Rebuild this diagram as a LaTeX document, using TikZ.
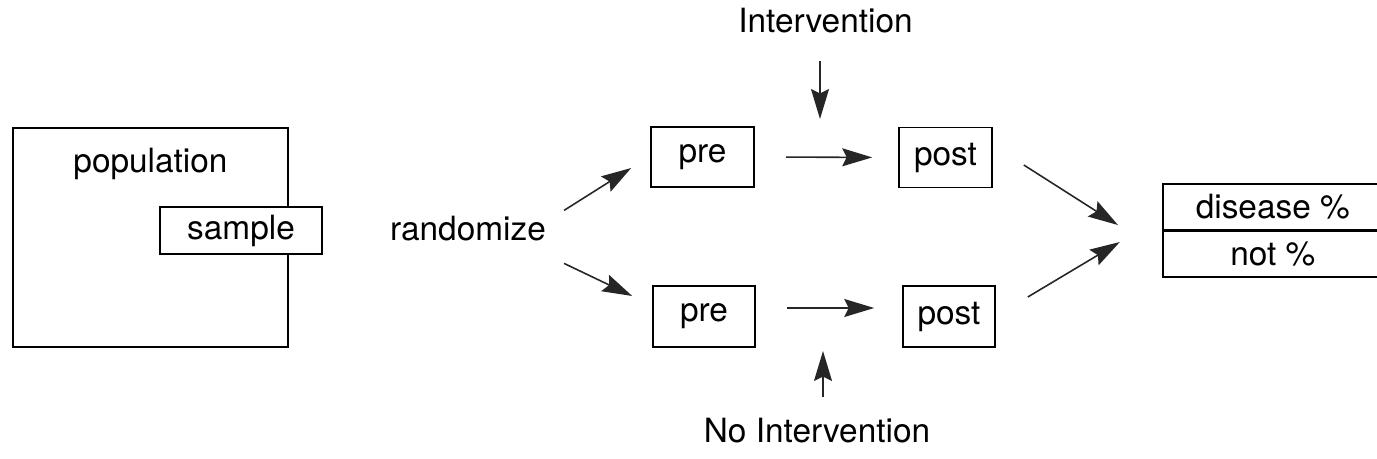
\documentclass[tikz,border=0pt]{standalone}
\usepackage{fontspec}
\setmainfont{TeX Gyre Heros}
\usepackage{tikz}
\usetikzlibrary{arrows.meta,positioning,calc}

\begin{document}
\begin{tikzpicture}[font=\fontsize{19}{22}\selectfont,
		box/.style={draw,line width=0.9pt,minimum height=1.2cm,fill=white},
		arr/.style={-{Stealth[length=6mm,width=3.6mm,inset=0.9mm]},line width=0.9pt,color=black!85}]
					\useasboundingbox (0,0) rectangle (27.54,9.18);
					%\draw[help lines] (0,0) grid (27,9);
					
					%POPULATION
					\node[draw,line width=0.9pt,minimum width=5.5cm,minimum height=4.38cm] (pop) at (3.01,4.43) {};
					\node[anchor=base] (poplab) at (3.01,5.72) {population};
					\node[box,minimum width=3.24cm,minimum height=0.94cm] (sample) at (4.82,4.57) {sample};
					%RANDOMIZE
					\node[anchor=base] (rand) at (9.36,4.36) {randomize};
					%PRE / POST
					\node[box,minimum width=2.06cm] (pre1) at (14.05,6.04) {pre};
					\node[box,minimum width=1.86cm] (post1) at (18.91,6.03) {post};
					\node[box,minimum width=2.04cm,minimum height=1.22cm] (pre2) at (14.08,2.85) {pre};
					\node[box,minimum width=1.84cm,minimum height=1.22cm] (post2) at (18.98,2.85) {post};
					%INTERVENTION
					\node[anchor=base] (int) at (16.51,8.52) {Intervention};
					\node[anchor=base] (noint) at (16.34,0.32) {No Intervention};
					\coordinate (itip) at (16.4,6.8);
					\coordinate (ntip) at (16.46,2.16);
					%RESULT
					\node[box,anchor=west,minimum width=4.4cm,minimum height=0.93cm] (dis) at (23.24,5.04) {disease \%};
					\node[box,minimum width=4.4cm,minimum height=0.92cm,below=0pt of dis,outer sep=0pt] (notp) {not \%};
					
					%ARROWS
					\draw[arr] ($(rand.mid east)+(0.24,0.52)$) -- ($(pre1.west)+(-0.38,-0.22)$);
					\draw[arr] ($(rand.mid east)+(0.24,-0.54)$) -- ($(pre2.west)+(-0.4,0.41)$);
					\draw[arr,shorten <=0.62cm,shorten >=0.52cm] (pre1.east) -- (post1.west);
					\draw[arr,shorten <=0.62cm,shorten >=0.56cm] ([yshift=0.17cm]pre2.east) -- ([yshift=0.17cm]post2.west);
					\draw[arr,shorten <=0.42cm] (int.south -| itip) -- (itip);
					\draw[arr,shorten <=0.3cm] (noint.north -| ntip) -- (ntip);
					\draw[arr] ($(post1.east)+(0.62,-0.15)$) -- ($(dis.south west)+(-0.88,0.12)$);
					\draw[arr] ($(post2.east)+(0.64,0.39)$) -- ($(notp.south west)+(-0.86,0.7)$);
				
				  \end{tikzpicture}
\end{document}
